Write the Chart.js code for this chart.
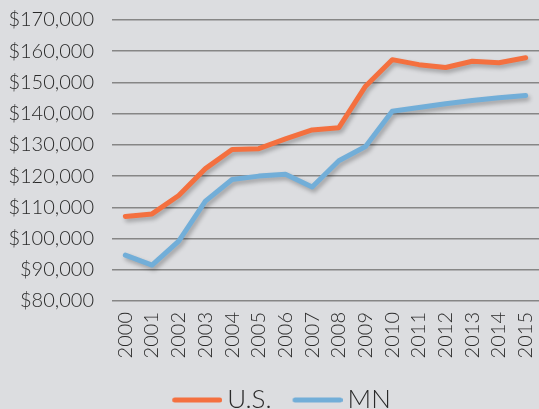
<!DOCTYPE html>
<html>
<head>
<meta charset="utf-8">
<script src="https://cdn.jsdelivr.net/npm/chart.js@4/dist/chart.umd.min.js"></script>
<style>
  html, body { margin: 0; padding: 0; background: #dcdde0; }
  #wrap { width: 539px; height: 409px; position: relative; }
</style>
</head>
<body>
<div id="wrap"><canvas id="chart"></canvas></div>
<script>
const years = ["2000", "2001", "2002", "2003", "2004", "2005", "2006", "2007",
  "2008", "2009", "2010", "2011", "2012", "2013", "2014", "2015"];
const usValues = [107100, 107900, 113800, 122400, 128500, 128800, 131900, 134800,
  135500, 148800, 157300, 155700, 154800, 156800, 156300, 157900];
const mnValues = [94700, 91500, 99200, 112000, 118900, 120000, 120600, 116500,
  124900, 129500, 140800, 142000, 143200, 144200, 145100, 145800];
const yMin = 80000;
const yMax = 170000;
const yStep = 10000;

const usColor = "#f4703f";
const mnColor = "#72aed8";
const textColor = "#2a2a2a";
const fontFamily = "Lato, 'Open Sans', sans-serif";

// legend swatch: a 50px rounded stroke, drawn a bit left of its box so the
// label sits close to it
function legendLine(color) {
  const c = document.createElement("canvas");
  c.width = 58;
  c.height = 8;
  const g = c.getContext("2d");
  g.strokeStyle = color;
  g.lineWidth = 5;
  g.lineCap = "round";
  g.beginPath();
  g.moveTo(10.5, 4);
  g.lineTo(55.5, 4);
  g.stroke();
  return c;
}

// soft drop shadow under the lines, like the original
const lineShadow = {
  id: "lineShadow",
  afterLayout(chart) {
    // nudge the legend row a little to the right
    chart.legend.left += 12;
    chart.legend.right += 12;
  },
  beforeDatasetsDraw(chart) {
    const ctx = chart.ctx;
    ctx.save();
    ctx.shadowColor = "rgba(0, 0, 0, 0.28)";
    ctx.shadowBlur = 4;
    ctx.shadowOffsetX = 2;
    ctx.shadowOffsetY = 3;
  },
  afterDatasetsDraw(chart) {
    chart.ctx.restore();
  },
};

new Chart(document.getElementById("chart"), {
  type: "line",
  data: {
    labels: years,
    datasets: [
      {
        label: "U.S.",
        data: usValues,
        borderColor: usColor,
        backgroundColor: usColor,
        borderWidth: 5,
        borderCapStyle: "round",
        borderJoinStyle: "round",
        pointRadius: 0,
        pointStyle: legendLine(usColor),
        tension: 0,
      },
      {
        label: "MN",
        data: mnValues,
        borderColor: mnColor,
        backgroundColor: mnColor,
        borderWidth: 5,
        borderCapStyle: "round",
        borderJoinStyle: "round",
        pointRadius: 0,
        pointStyle: legendLine(mnColor),
        tension: 0,
      },
    ],
  },
  options: {
    responsive: true,
    maintainAspectRatio: false,
    animation: false,
    layout: { padding: { top: 20, right: 0, bottom: -14, left: 0 } },
    plugins: {
      tooltip: { enabled: false },
      legend: {
        position: "bottom",
        labels: {
          usePointStyle: true,
          pointStyleWidth: 42,
          padding: 21,
          color: textColor,
          font: { family: fontFamily, size: 26, weight: 300 },
        },
      },
    },
    scales: {
      x: {
        offset: true,
        grid: { display: false, drawTicks: false },
        border: { display: false },
        afterFit(scale) {
          scale.height = 65;
          scale.paddingLeft = 0;
          scale.paddingRight = 0;
        },
        ticks: {
          autoSkip: false,
          minRotation: 90,
          maxRotation: 90,
          padding: 11,
          color: textColor,
          font: { family: fontFamily, size: 20, weight: 300 },
        },
      },
      y: {
        min: yMin,
        max: yMax,
        border: { display: false },
        grid: { color: "#868686", lineWidth: 1.5, drawTicks: false },
        afterFit(scale) {
          scale.width = 112;
          scale.paddingTop = 0;
          scale.paddingBottom = 0;
        },
        ticks: {
          stepSize: yStep,
          padding: 18,
          color: textColor,
          font: { family: fontFamily, size: 20, weight: 300 },
          callback: (v) => "$" + v.toLocaleString("en-US"),
        },
      },
    },
  },
  plugins: [lineShadow],
});
</script>
</body>
</html>
